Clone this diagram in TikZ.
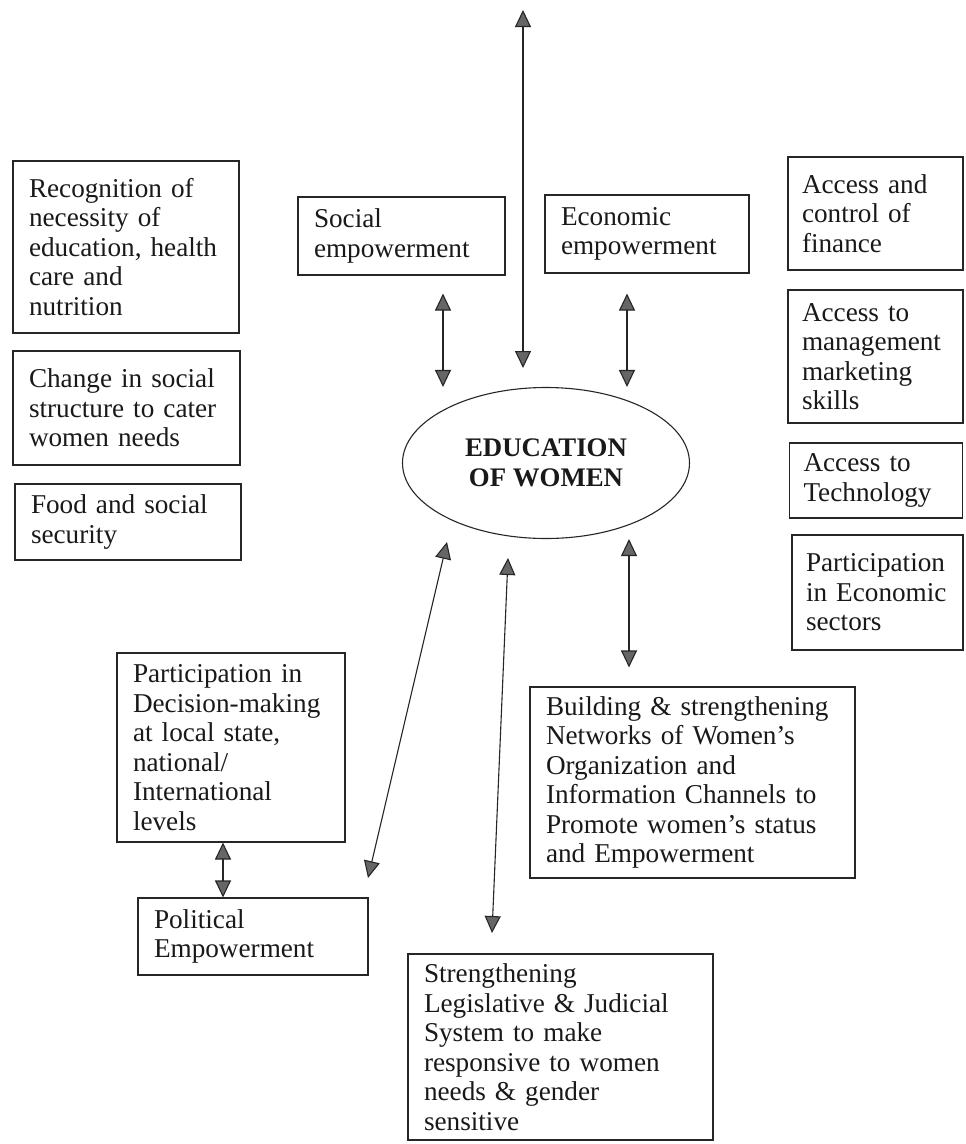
\documentclass[tikz,border=0pt]{standalone}
\usepackage{fontspec}
\setmainfont{Liberation Serif}
\usetikzlibrary{arrows.meta,shapes.geometric}
\begin{document}
\begin{tikzpicture}[x=1pt,y=-1pt,
  every node/.style={font=\fontsize{27.2}{29.5}\selectfont, text=black!90},
  blk/.style={draw=black!85, line width=1.1pt, rectangle, align=left, inner xsep=16pt, inner ysep=0pt},
  twoway/.style={line width=1.1pt, draw=black!85,
    {Triangle[width=16pt,length=17pt,fill=black!60]}-{Triangle[width=16pt,length=17pt,fill=black!60]}}
]
\useasboundingbox[fill=white] (0,0) rectangle (966,1144);

% left column
\node[blk, text width=194pt, minimum width=226pt, minimum height=172pt] (rec) at (126,247)
  {Recognition of\\necessity of\\education, health\\care and\\nutrition};
\node[blk, text width=195pt, minimum width=227pt, minimum height=114pt] (chg) at (126.5,408)
  {Change in social\\structure to cater\\women needs};
\node[blk, text width=194pt, minimum width=226pt, minimum height=76pt] (food) at (128,522)
  {Food and social\\security};

% top middle
\node[blk, text width=175pt, minimum width=207pt, minimum height=78pt] (soc) at (401.5,236)
  {Social\\empowerment};
\node[blk, text width=172pt, minimum width=204pt, minimum height=78pt] (eco) at (647,234)
  {Economic\\empowerment};

% right column
\node[blk, inner xsep=14pt, text width=147pt, minimum width=175pt, minimum height=113pt] (acc) at (875.5,213.5)
  {Access and\\control of\\finance};
\node[blk, inner xsep=14pt, text width=147pt, minimum width=175pt, minimum height=133pt] (mgmt) at (875.5,356.5)
  {Access to\\management\\marketing\\skills};
\node[blk, inner xsep=14pt, text width=145pt, minimum width=173pt, minimum height=75pt] (tech) at (876,480.5)
  {Access to\\Technology};
\node[blk, inner xsep=14pt, text width=143pt, minimum width=171pt, minimum height=115pt] (pec) at (877.5,592.5)
  {Participation\\in~Economic\\sectors};

% centre
\node[draw=black!85, line width=1.1pt, ellipse, minimum width=287pt, minimum height=151pt, inner sep=0pt,
  align=center, font=\fontsize{26.8}{30}\selectfont\bfseries] (edu) at (546,463)
  {EDUCATION\\OF WOMEN};

% lower boxes
\node[blk, text width=196pt, minimum width=228pt, minimum height=189pt] (pdm) at (231,747.5)
  {Participation in\\Decision-making\\at local state,\\national/\\International\\levels};
\node[blk, text width=198pt, minimum width=230pt, minimum height=77pt] (pol) at (253,936.5)
  {Political\\Empowerment};
\node[blk, text width=293pt, minimum width=325pt, minimum height=191pt] (bld) at (692.5,782.5)
  {Building \& strengthening\\Networks of Women's\\Organization and\\Information Channels to\\Promote women's status\\and Empowerment};
\node[blk, text width=273pt, minimum width=305pt, minimum height=186pt] (slj) at (560.5,1047)
  {Strengthening\\Legislative \& Judicial\\System to make\\responsive to women\\needs \& gender\\sensitive};

% free ends
\coordinate (ctop) at (523,10);
\coordinate (cbot) at (523,368);
\coordinate (dtop) at (447,542);
\coordinate (dbot) at (368,878);
\coordinate (stop) at (508,558);
\coordinate (sbot) at (492,933);

% connectors
\draw[twoway] (ctop) -- (cbot);
\draw[twoway, shorten <=18pt] ([xshift=41.5pt]soc.south) -- ([xshift=41.5pt]soc.south |- edu.north);
\draw[twoway, shorten <=20pt] ([xshift=-20pt]eco.south) -- ([xshift=-20pt]eco.south |- edu.north);
\draw[twoway, shorten >=19pt] ([xshift=-63.5pt]bld.north |- edu.south) -- ([xshift=-63.5pt]bld.north);
\draw[twoway] (dtop) -- (dbot);
\draw[twoway] (stop) -- (sbot);
\draw[twoway] ([xshift=-8pt]pdm.south) -- ([xshift=-8pt]pdm.south |- pol.north);
\end{tikzpicture}
\end{document}
